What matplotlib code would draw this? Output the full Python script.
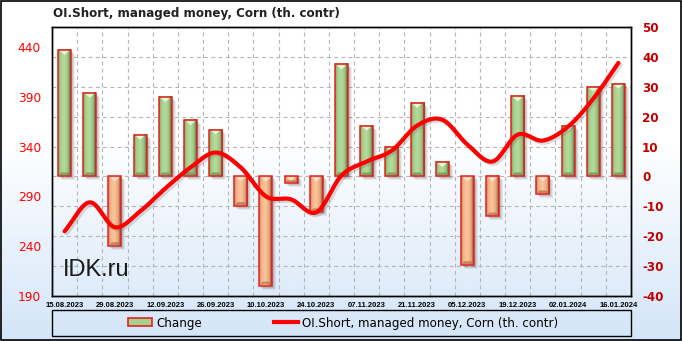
import numpy as np
import matplotlib
matplotlib.use("Agg")
import matplotlib.pyplot as plt
from matplotlib.patches import Rectangle, Polygon, Patch
from matplotlib.lines import Line2D
from matplotlib.colors import LinearSegmentedColormap, to_rgb
import matplotlib.transforms as mtransforms

# ---------------- data ----------------
dates = ['15.08.2023', '22.08.2023', '29.08.2023', '05.09.2023', '12.09.2023',
         '19.09.2023', '26.09.2023', '03.10.2023', '10.10.2023', '17.10.2023',
         '24.10.2023', '31.10.2023', '07.11.2023', '14.11.2023', '21.11.2023',
         '28.11.2023', '05.12.2023', '12.12.2023', '19.12.2023', '26.12.2023',
         '02.01.2024', '09.01.2024', '16.01.2024']
change = [42.3, 28.0, -23.3, 14.0, 26.6, 18.8, 15.7, -9.9, -36.5, -2.3,
          -12.0, 37.5, 17.0, 9.9, 24.6, 4.8, -29.7, -13.4, 26.8, -6.0,
          17.0, 30.0, 31.0]
oi_short = [255, 284, 259, 275, 298, 319, 334, 319, 290, 287, 274, 311,
            325, 336, 361, 367, 342, 325, 352, 346, 360, 388, 424]
left_ticks = [190, 240, 290, 340, 390, 440]
right_ticks = [-40, -30, -20, -10, 0, 10, 20, 30, 40, 50]
title = "OI.Short, managed money, Corn (th. contr)"
bar_label = "Change"
line_label = "OI.Short, managed money, Corn (th. contr)"

# ---------------- figure ----------------
W, H = 682, 341
fig = plt.figure(figsize=(W / 100, H / 100), dpi=100)

# background gradient
bg = fig.add_axes([0, 0, 1, 1], zorder=-10)
bg.set_axis_off()
t = np.linspace(0, 1, 341)[:, None]
top_c = np.array(to_rgb('#ffffff'))
bot_c = np.array(to_rgb('#d3e5f8'))
f = np.clip((t - 0.42) / 0.58, 0, 1)
grad = top_c[None, None, :] * (1 - f[..., None]) + bot_c[None, None, :] * f[..., None]
grad = np.repeat(grad, 2, axis=1)
bg.imshow(grad, aspect='auto', extent=(0, 1, 0, 1))
bg.set_xlim(0, 1); bg.set_ylim(0, 1)
bg.add_patch(Rectangle((0.0008, 0.0015), 0.998, 0.997, fill=False,
                       edgecolor='black', linewidth=1.2, transform=bg.transAxes))

L, R, T, B = 52, 631, 27, 296
ax2 = fig.add_axes([L / W, (H - B) / H, (R - L) / W, (B - T) / H])
ax = ax2.twinx()
# ax2 -> right axis (bars), ax -> left axis (line)
ax2.yaxis.tick_right()
ax2.yaxis.set_label_position('right')
ax.yaxis.tick_left()
ax.yaxis.set_label_position('left')
ax2.patch.set_visible(False)
ax.patch.set_visible(False)

n = len(dates)
x = np.arange(n)
ax2.set_xlim(-0.5, n - 0.5)
ax2.set_ylim(-40, 50)
ax.set_ylim(190, 460)

px_x = n / (R - L)           # data units per pixel in x
px_y = 90 / (B - T)          # data units per pixel in y (right axis)

# grid
for yv in right_ticks[1:-1]:
    ax2.axhline(yv, color='#b5b5b5', lw=0.8, dashes=(3.5, 3), zorder=0)
for k in range(1, n):
    ax2.axvline(k - 0.5, color='#b5b5b5', lw=0.8, dashes=(3.5, 3), zorder=0)

# bars
gcols = ['#72a05c', '#a6cf8b', '#b7dc9e', '#98c07c', '#46603a']
ocols = ['#c48560', '#f4b386', '#fbc7a0', '#e8a377', '#7f4d30']
gcmap = LinearSegmentedColormap.from_list('g', list(zip([0, 0.18, 0.5, 0.8, 1.0], gcols)))
ocmap = LinearSegmentedColormap.from_list('o', list(zip([0, 0.18, 0.5, 0.8, 1.0], ocols)))
hstrip = np.linspace(0, 1, 40)[None, :]
w = 13 * px_x
for i, v in enumerate(change):
    x0, x1 = i - w / 2, i + w / 2
    lo, hi = min(0, v), max(0, v)
    # shadow
    for off, al in [(4, 0.10), (3, 0.14), (2, 0.18)]:
        sh = Rectangle((x0 + off * px_x, lo - off * px_y), w, hi - lo,
                       facecolor='#606060', edgecolor='none', alpha=al, zorder=1)
        ax2.add_patch(sh)
    cmap = gcmap if v >= 0 else ocmap
    ax2.imshow(hstrip, cmap=cmap, aspect='auto', extent=(x0, x1, lo, hi),
               zorder=2, interpolation='bilinear')
    # top highlight triangle
    light = '#eaf6dc' if v >= 0 else '#fde3cc'
    dark = '#5f7f4a' if v >= 0 else '#a5663f'
    dx = 2 * px_x
    th = min(4 * px_y, (hi - lo) * 0.45)
    ax2.add_patch(Polygon([(x0 + dx, hi - px_y), (x1 - dx, hi - px_y), (i, hi - px_y - th)],
                          closed=True, facecolor=light, edgecolor='none', zorder=3))
    bh = min(3 * px_y, (hi - lo) * 0.3)
    ax2.add_patch(Polygon([(x0 + px_x, lo + px_y), (x1 - px_x, lo + px_y),
                           (x1 - dx - px_x, lo + px_y + bh), (x0 + dx + px_x, lo + px_y + bh)],
                          closed=True, facecolor=dark, edgecolor='none', alpha=0.6, zorder=3))
    ax2.add_patch(Rectangle((x0, lo), w, hi - lo, fill=False, edgecolor='#e3231f',
                            linewidth=1.1, zorder=4))

# smooth line (Catmull-Rom through the data points, drawing only)
def catmull(xs, ys, steps=24):
    xs = np.asarray(xs, float); ys = np.asarray(ys, float)
    P = np.column_stack([xs, ys])
    P = np.vstack([2 * P[0] - P[1], P, 2 * P[-1] - P[-2]])
    out = []
    for k in range(1, len(P) - 2):
        p0, p1, p2, p3 = P[k - 1], P[k], P[k + 1], P[k + 2]
        tt = np.linspace(0, 1, steps, endpoint=False)[:, None]
        seg = 0.5 * ((2 * p1) + (-p0 + p2) * tt + (2 * p0 - 5 * p1 + 4 * p2 - p3) * tt ** 2
                     + (-p0 + 3 * p1 - 3 * p2 + p3) * tt ** 3)
        out.append(seg)
    out.append(P[-2][None, :])
    out = np.vstack(out)
    return out[:, 0], out[:, 1]

sx, sy = catmull(x, oi_short)
shadow_tr = ax.transData + mtransforms.ScaledTranslation(2 / 100, -2 / 100, fig.dpi_scale_trans)
ax.plot(sx, sy, color='#707070', lw=3.2, alpha=0.25, transform=shadow_tr,
        solid_capstyle='round', zorder=5)
ax.plot(sx, sy, color='#ff0000', lw=3.0, solid_capstyle='round', zorder=6)
ax.set_xlim(-0.5, n - 0.5)

# axes styling
ax2.set_yticks(right_ticks)
ax2.set_yticklabels([str(v) for v in right_ticks])
ax.set_yticks(left_ticks)
ax.set_yticklabels([str(v) for v in left_ticks])
ax2.tick_params(axis='y', length=0, pad=8, labelsize=8.6, labelcolor='#c00000')
for lab in ax2.get_yticklabels():
    lab.set_fontweight('bold')
ax.tick_params(axis='y', length=0, pad=8, labelsize=8.8, labelcolor='#ff0000')
ax2.set_xticks(x[::2])
ax2.set_xticklabels(dates[::2])
ax2.tick_params(axis='x', length=0, pad=4.0, labelsize=5.5)
for lab in ax2.get_xticklabels():
    lab.set_fontweight('bold')
    lab.set_family('Liberation Sans')
for a in (ax, ax2):
    for s in a.spines.values():
        s.set_color('black'); s.set_linewidth(1.0)

# watermark
ax2.text(0.018, 0.055, 'IDK.ru', transform=ax2.transAxes, fontsize=17,
         family='Liberation Sans', color='#1a1a1a', ha='left', va='bottom', zorder=7)

# title
fig.text(53 / W, 1 - 14 / H, title, fontsize=8.6, fontweight='bold', color='#222222',
         ha='left', va='center')

# legend
fig.add_artist(Rectangle((L / W, 5 / H), (R - L) / W, 26 / H, fill=False,
                         edgecolor='black', linewidth=1.0, transform=fig.transFigure))
handles = [Patch(facecolor='#a6cf8b', edgecolor='#e3231f', linewidth=1.2),
           Line2D([0], [0], color='#ff0000', lw=3)]
fig.legend(handles, [bar_label, line_label], loc='center',
           bbox_to_anchor=(0.503, 18 / H), ncol=2, frameon=False, fontsize=8.6,
           columnspacing=6.0, handlelength=2.0, handletextpad=0.35, handleheight=0.6)

fig.savefig('out.png', dpi=100)
